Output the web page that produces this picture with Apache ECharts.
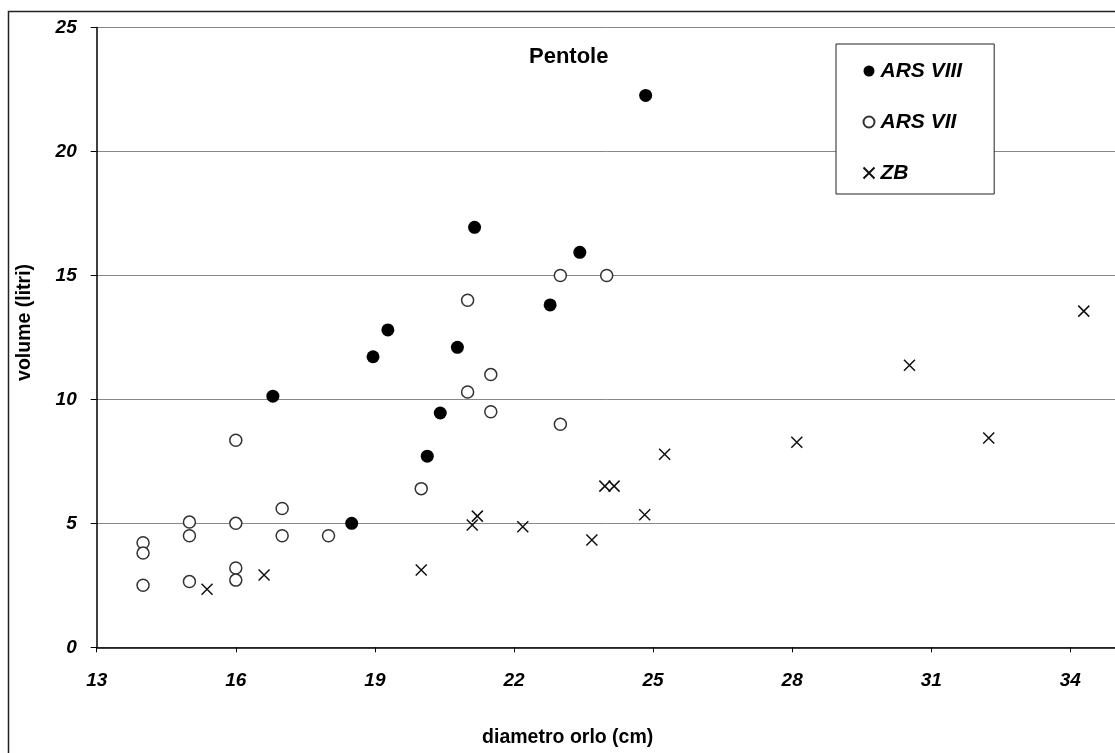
<!DOCTYPE html>
<html>
<head>
<meta charset="utf-8">
<title>Pentole</title>
<script src="https://cdn.jsdelivr.net/npm/echarts@6/dist/echarts.min.js"></script>
<style>
    html, body { margin: 0; padding: 0; background: #fff; }
    #chart { width: 1115px; height: 753px; }
</style>
</head>
<body>
<div id="chart"></div>
<script>
// ARS VIII - cerchi pieni
const ars8X = [16.8, 18.5, 18.96, 19.28, 20.13, 20.41, 20.78, 21.15, 22.78, 23.42, 24.84]
const ars8Y = [10.13, 5.0, 11.72, 12.8, 7.71, 9.45, 12.1, 16.94, 13.81, 15.93, 22.26]

// ARS VII - cerchi vuoti
const ars7X = [14, 14, 14, 15, 15, 15, 16, 16, 16, 16, 17, 17, 18, 20, 21, 21, 21.5, 21.5, 23, 23, 24]
const ars7Y = [4.22, 3.8, 2.5, 5.05, 4.5, 2.65, 8.35, 5.0, 3.2, 2.71, 5.6, 4.5, 4.5, 6.4, 10.3, 14, 11, 9.5, 9, 15, 15]

// ZB - croci
const zbX = [15.38, 16.61, 20.0, 21.1, 21.21, 22.19, 23.68, 23.96, 24.16, 24.82, 25.25, 28.1, 30.53, 32.24, 34.29]
const zbY = [2.34, 2.92, 3.12, 4.93, 5.29, 4.86, 4.33, 6.5, 6.5, 5.35, 7.79, 8.27, 11.38, 8.44, 13.56]

// assi
const xTicks = [13, 16, 19, 22, 25, 28, 31, 34]
const yTicks = [0, 5, 10, 15, 20, 25]

window.onload = function () {

    const font = '"Liberation Sans", Arial, sans-serif'

    // coppie [x, y]
    function pairs(xs, ys) {
        return xs.map((x, i) => [x, ys[i]])
    }

    const cross = 'path://M0,0L10,10M10,0L0,10'

    const chart = echarts.init(document.getElementById('chart'))
    chart.setOption({
        animation: false,
        backgroundColor: '#fff',
        // cornice esterna
        graphic: [{
            type: 'rect',
            shape: { x: 8.5, y: 11.5, width: 1200, height: 800 },
            style: { fill: 'none', stroke: '#222', lineWidth: 1.5 },
            silent: true
        }],
        title: {
            text: 'Pentole',
            left: 529,
            top: 46,
            padding: 0,
            textStyle: { fontFamily: font, fontWeight: 'bold', fontSize: 22, color: '#000' }
        },
        legend: {
            orient: 'vertical',
            left: 836,
            top: 44,
            padding: [16.5, 32, 10.5, 25],
            itemGap: 30,
            itemWidth: 13,
            itemHeight: 11,
            backgroundColor: '#fff',
            borderColor: '#222',
            borderWidth: 1,
            textStyle: {
                fontFamily: font, fontWeight: 'bold', fontStyle: 'italic',
                fontSize: 21, color: '#000', lineHeight: 21
            },
            data: ['ARS VIII', 'ARS VII', 'ZB']
        },
        // il grafico originale e' tagliato a destra
        grid: { left: 96.7, top: 27.5, width: 1020, bottom: 105.7, outerBoundsMode: 'none' },
        xAxis: {
            type: 'value',
            min: 13,
            max: 35,
            interval: 3,
            name: 'diametro orlo (cm)',
            nameLocation: 'middle',
            nameGap: 80,
            nameTextStyle: {
                fontFamily: font, fontWeight: 'bold', fontSize: 19.5, color: '#000',
                padding: [0, 78, 0, 0]
            },
            axisLine: { lineStyle: { color: '#000', width: 1.5 } },
            axisTick: { show: true, length: 5, lineStyle: { color: '#000' } },
            axisLabel: {
                margin: 24,
                fontFamily: font, fontWeight: 'bold', fontStyle: 'italic',
                fontSize: 19, color: '#000',
                formatter: v => xTicks.includes(v) ? String(v) : ''
            },
            splitLine: { show: false }
        },
        yAxis: {
            type: 'value',
            min: 0,
            max: 25,
            interval: 5,
            name: 'volume (litri)',
            nameLocation: 'middle',
            nameGap: 62,
            nameTextStyle: {
                fontFamily: font, fontWeight: 'bold', fontSize: 19.5, color: '#000',
                padding: [0, 0, 0, 30]
            },
            axisLine: { show: true, lineStyle: { color: '#000', width: 1.5 } },
            axisTick: { show: true, length: 6, lineStyle: { color: '#000' } },
            axisLabel: {
                margin: 20,
                fontFamily: font, fontWeight: 'bold', fontStyle: 'italic',
                fontSize: 19, color: '#000',
                padding: [2, 0, 0, 0],
                formatter: v => yTicks.includes(v) ? String(v) : ''
            },
            splitLine: { show: true, lineStyle: { color: '#888', width: 1 } }
        },
        series: [
            {
                name: 'ARS VIII',
                type: 'scatter',
                symbol: 'circle',
                symbolSize: 13,
                itemStyle: { color: '#000', opacity: 1 },
                data: pairs(ars8X, ars8Y),
                z: 3
            },
            {
                name: 'ARS VII',
                type: 'scatter',
                symbol: 'circle',
                symbolSize: 12,
                itemStyle: { color: '#fff', borderColor: '#333', borderWidth: 1.5, opacity: 1 },
                data: pairs(ars7X, ars7Y),
                z: 2
            },
            {
                name: 'ZB',
                type: 'scatter',
                symbol: cross,
                symbolSize: 11,
                itemStyle: { color: 'none', borderColor: '#111', borderWidth: 1.5, opacity: 1 },
                data: pairs(zbX, zbY),
                z: 4
            }
        ]
    })
}
</script>
</body>
</html>
